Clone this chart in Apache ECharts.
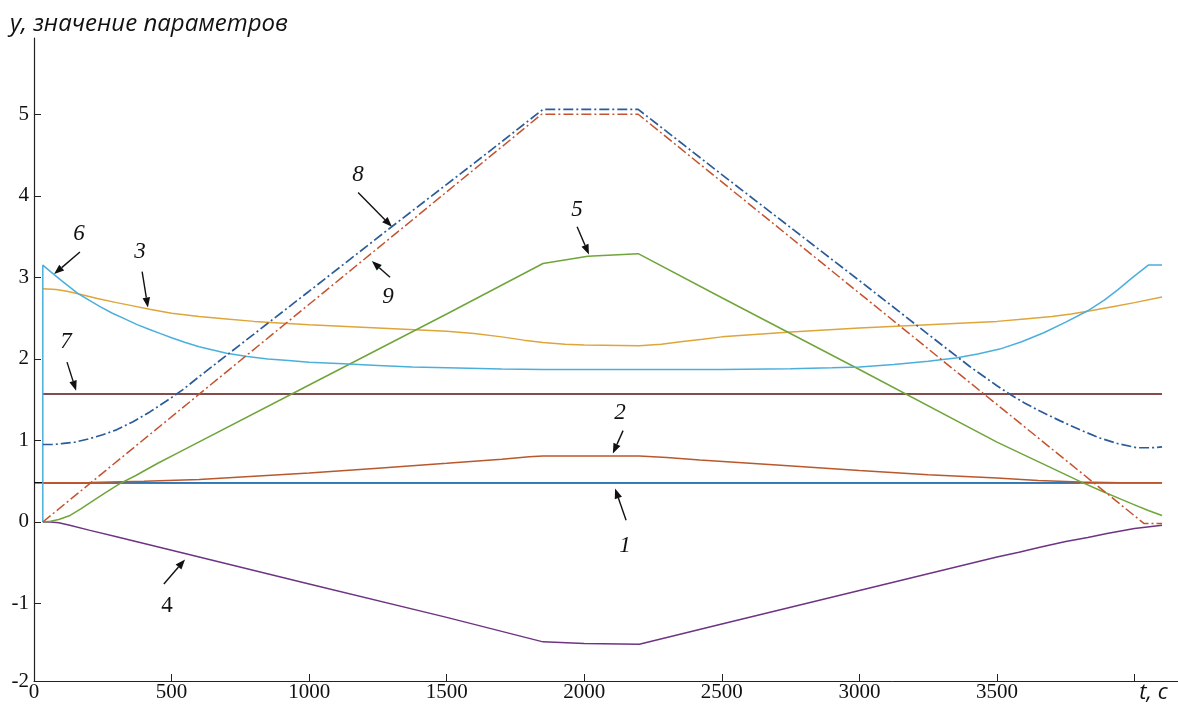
<!DOCTYPE html>
<html>
<head>
<meta charset="utf-8">
<script src="https://cdn.jsdelivr.net/npm/echarts@6/dist/echarts.min.js"></script>
<style>
  html, body { margin: 0; padding: 0; background: #fff; }
  #chart { width: 1178px; height: 704px; }
</style>
</head>
<body>
<div id="chart"></div>
<script>
// ось t, c  /  ось y
const xTicks = [0, 500, 1000, 1500, 2000, 2500, 3000, 3500, 4000];
const yTicks = [-1, 0, 1, 2, 3, 4, 5];
const yBottom = -1.95; // нижняя граница, подписана как -2

// кривые [t, y]
const base = [[0, 0.48], [4100, 0.48]];
const s1 = [[32, 0.48], [3800, 0.48]];
const s2 = [[32, 0.48], [200, 0.485], [400, 0.5], [600, 0.52], [800, 0.56], [1000, 0.6], [1250, 0.66],
  [1500, 0.72], [1700, 0.77], [1800, 0.8], [1850, 0.81], [2200, 0.81], [2300, 0.79], [2420, 0.76],
  [2700, 0.7], [3000, 0.63], [3250, 0.58], [3500, 0.54], [3650, 0.51], [3800, 0.49], [3950, 0.48], [4100, 0.48]];
const s3 = [[32, 2.86], [80, 2.85], [120, 2.83], [160, 2.8], [230, 2.74], [300, 2.69], [360, 2.65],
  [420, 2.61], [500, 2.56], [600, 2.52], [700, 2.49], [800, 2.46], [1000, 2.42], [1250, 2.38],
  [1500, 2.34], [1600, 2.31], [1700, 2.27], [1780, 2.23], [1850, 2.2], [1930, 2.18], [2000, 2.17],
  [2200, 2.16], [2280, 2.18], [2350, 2.21], [2430, 2.24], [2500, 2.27], [2750, 2.33], [3000, 2.38],
  [3250, 2.42], [3500, 2.46], [3600, 2.49], [3700, 2.52], [3770, 2.55], [3840, 2.59], [3920, 2.64],
  [4000, 2.69], [4100, 2.76]];
const s4 = [[32, 0], [60, 0], [90, -0.01], [130, -0.04], [200, -0.1], [300, -0.18], [530, -0.37],
  [1000, -0.76], [1500, -1.17], [1850, -1.47], [2000, -1.49], [2200, -1.5], [2500, -1.25],
  [3000, -0.84], [3500, -0.43], [3580, -0.37], [3656, -0.31], [3750, -0.24], [3830, -0.19],
  [3900, -0.14], [4000, -0.08], [4100, -0.04]];
const s5 = [[32, 0], [60, 0.01], [90, 0.03], [131, 0.08], [170, 0.16], [210, 0.25], [260, 0.36],
  [312, 0.47], [370, 0.57], [450, 0.72], [530, 0.86], [1000, 1.68], [1500, 2.55], [1850, 3.17],
  [2013, 3.26], [2196, 3.29], [2500, 2.75], [3000, 1.87], [3500, 0.98], [3813, 0.48], [3880, 0.38],
  [3950, 0.28], [4000, 0.21], [4050, 0.14], [4100, 0.08]];
const s6 = [[32, 0], [32, 3.15], [60, 3.07], [100, 2.96], [130, 2.88], [160, 2.8], [200, 2.72],
  [240, 2.64], [285, 2.56], [330, 2.49], [375, 2.42], [420, 2.36], [460, 2.31], [500, 2.26],
  [550, 2.2], [600, 2.15], [650, 2.11], [700, 2.07], [775, 2.03], [850, 2.0], [925, 1.98],
  [1000, 1.96], [1125, 1.94], [1250, 1.92], [1375, 1.9], [1500, 1.89], [1700, 1.875], [1850, 1.87],
  [2200, 1.87], [2500, 1.87], [2750, 1.88], [2900, 1.89], [3000, 1.9], [3125, 1.93], [3250, 1.97],
  [3350, 2.01], [3430, 2.06], [3510, 2.12], [3590, 2.21], [3670, 2.32], [3750, 2.45], [3830, 2.59],
  [3890, 2.72], [3940, 2.85], [3990, 2.99], [4050, 3.15], [4100, 3.15]];
const s7 = [[32, 1.57], [4100, 1.57]];
const s8 = [[32, 0.95], [70, 0.95], [100, 0.96], [150, 0.98], [200, 1.02], [250, 1.07], [300, 1.13],
  [360, 1.23], [421, 1.35], [480, 1.48], [540, 1.62], [603, 1.79], [1000, 2.83], [1300, 3.62],
  [1600, 4.4], [1850, 5.06], [2196, 5.06], [2500, 4.26], [3000, 2.96], [3300, 2.17], [3400, 1.91],
  [3450, 1.79], [3500, 1.67], [3550, 1.56], [3600, 1.46], [3656, 1.36], [3730, 1.24], [3802, 1.13],
  [3874, 1.03], [3940, 0.96], [4009, 0.91], [4060, 0.91], [4100, 0.92]];
const s9 = [[32, 0], [1845, 5.0], [2196, 5.0], [4035, -0.02], [4100, -0.02]];

// номера кривых: текст, начало и конец стрелки (в координатах графика)
const notes = [
  { text: '1', at: [2148, -0.3], from: [2152, 0.02], to: [2112, 0.41] },
  { text: '2', at: [2130, 1.34], from: [2141, 1.12], to: [2104, 0.84] },
  { text: '3', at: [385, 3.31], from: [393, 3.07], to: [414, 2.63] },
  { text: '4', at: [483, -1.03], from: [472, -0.76], to: [549, -0.46], upright: true },
  { text: '5', at: [1974, 3.83], from: [1974, 3.62], to: [2017, 3.28] },
  { text: '6', at: [164, 3.53], from: [167, 3.31], to: [73, 3.04] },
  { text: '7', at: [116, 2.21], from: [120, 1.96], to: [153, 1.61] },
  { text: '8', at: [1178, 4.26], from: [1178, 4.04], to: [1301, 3.62] },
  { text: '9', at: [1287, 2.76], from: [1294, 3.0], to: [1228, 3.2] }
];

const chart = echarts.init(document.getElementById('chart'));

function line(data, color, opts) {
  opts = opts || {};
  return {
    type: 'line',
    data: data,
    showSymbol: false,
    symbol: 'none',
    lineStyle: { color: color, width: opts.width || 1.5, type: opts.dash ? [10, 3, 2, 3] : 'solid' }
  };
}

const option = {
  animation: false,
  title: {
    text: 'y, значение параметров',
    left: 5,
    top: 7,
    textStyle: { fontFamily: 'Open Sans', fontStyle: 'italic', fontWeight: 'normal', fontSize: 24, color: '#111' }
  },
  grid: { left: 34, right: 0, top: 38, bottom: 21 },
  xAxis: {
    type: 'value',
    min: 0,
    max: 4158,
    splitLine: { show: false },
    axisLine: { onZero: false, lineStyle: { color: '#222', width: 1 } },
    axisTick: { inside: true, length: 7, customValues: xTicks, lineStyle: { color: '#222' } },
    axisLabel: {
      customValues: xTicks,
      margin: 1,
      fontFamily: 'Liberation Serif',
      fontSize: 21,
      color: '#111',
      formatter: v => (v === 4000 ? '{t|t, c}' : String(v)),
      rich: {
        t: { fontFamily: 'Open Sans', fontStyle: 'italic', fontSize: 22, color: '#111', padding: [0, 0, 0, 38] }
      }
    }
  },
  yAxis: {
    type: 'value',
    min: yBottom,
    max: 5.935,
    splitLine: { show: false },
    axisLine: { onZero: false, lineStyle: { color: '#222', width: 1.2 } },
    axisTick: { inside: true, length: 7, customValues: yTicks, lineStyle: { color: '#222' } },
    axisLabel: {
      customValues: [yBottom].concat(yTicks),
      margin: 5,
      fontFamily: 'Liberation Serif',
      fontSize: 21,
      color: '#111',
      formatter: v => (v === yBottom ? '-2' : String(v))
    }
  },
  series: [
    line(base, '#111111'),
    line(s7, '#5a1212'),
    line(s1, '#2f78b5', { width: 1.7 }),
    line(s2, '#b9582c'),
    line(s3, '#dea53a'),
    line(s4, '#6e3484'),
    line(s5, '#6fa53a'),
    line(s6, '#4bafdb'),
    line(s8, '#2b5c99', { dash: true, width: 1.7 }),
    line(s9, '#c4532f', { dash: true })
  ]
};
chart.setOption(option);

// стрелки с номерами
const g = [];
notes.forEach(n => {
  const p = chart.convertToPixel({ gridIndex: 0 }, n.at);
  const a = chart.convertToPixel({ gridIndex: 0 }, n.from);
  const b = chart.convertToPixel({ gridIndex: 0 }, n.to);
  const ang = Math.atan2(b[1] - a[1], b[0] - a[0]);
  const L = 10, W = 3.8;
  const bx = b[0] - L * Math.cos(ang), by = b[1] - L * Math.sin(ang);
  g.push({
    type: 'line',
    shape: { x1: a[0], y1: a[1], x2: bx, y2: by },
    style: { stroke: '#111', lineWidth: 1.4 }
  });
  g.push({
    type: 'polygon',
    shape: {
      points: [
        [b[0], b[1]],
        [bx - W * Math.sin(ang), by + W * Math.cos(ang)],
        [bx + W * Math.sin(ang), by - W * Math.cos(ang)]
      ]
    },
    style: { fill: '#111' }
  });
  g.push({
    type: 'text',
    x: p[0],
    y: p[1],
    style: {
      text: n.text,
      fontFamily: 'Liberation Serif',
      fontStyle: n.upright ? 'normal' : 'italic',
      fontSize: 23,
      fill: '#111',
      align: 'center',
      verticalAlign: 'middle'
    }
  });
});
chart.setOption({ graphic: g });
</script>
</body>
</html>
